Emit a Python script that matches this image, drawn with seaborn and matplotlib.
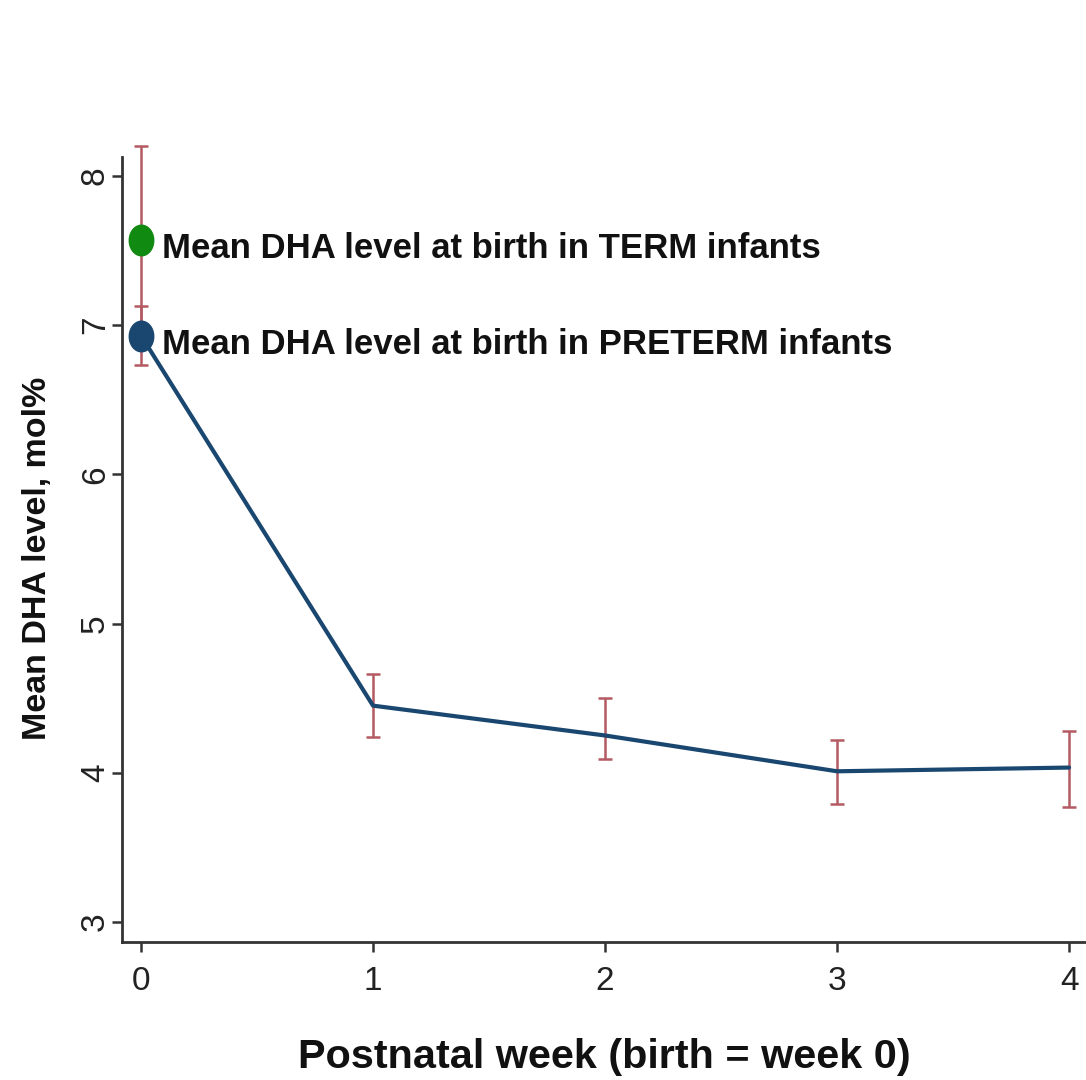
import numpy as np
import pandas as pd
import matplotlib
matplotlib.use("Agg")
import matplotlib.pyplot as plt
from matplotlib.path import Path
import seaborn as sns

# Mean DHA (mol%) in preterm infants by postnatal week, with error bar bounds
weeks = [0, 1, 2, 3, 4]
preterm_mean = [6.93, 4.45, 4.25, 4.01, 4.035]
preterm_low = [6.73, 4.24, 4.09, 3.79, 3.77]
preterm_high = [7.13, 4.66, 4.50, 4.22, 4.28]

# Reference value at birth for term infants
term_week = [0]
term_mean = [7.57]
term_low = [6.94]
term_high = [8.20]

x_ticks = [0, 1, 2, 3, 4]
y_ticks = [3, 4, 5, 6, 7, 8]

sns.set_style("white")
plt.rcParams["font.family"] = ["Liberation Sans", "DejaVu Sans"]

navy = "#1a476f"
maroon = "#b35a63"
green = "#118a11"

fig = plt.figure(figsize=(10.86, 10.8), dpi=100)
ax = fig.add_axes([0.1123, 0.1278, 0.8877, 0.7268])

df = pd.DataFrame({"week": weeks, "dha": preterm_mean})


def draw_errorbars(x, mean, low, high):
    cont = ax.errorbar(x, mean,
                       yerr=[np.subtract(mean, low), np.subtract(high, mean)],
                       fmt="none", ecolor=maroon, elinewidth=1.8, capsize=5,
                       capthick=1.8, zorder=2)
    for part in cont.lines[1] + tuple(cont.lines[2]):
        part.set_clip_on(False)


# error bars first so the line sits on top
draw_errorbars(weeks, preterm_mean, preterm_low, preterm_high)
draw_errorbars(term_week, term_mean, term_low, term_high)

sns.lineplot(data=df, x="week", y="dha", color=navy, linewidth=3.0, ax=ax, zorder=3)

# slightly tall elliptical marker
t = np.linspace(0, 2 * np.pi, 60)
ellipse = Path(np.column_stack([0.8 * np.cos(t), np.sin(t)]), closed=True)

ax.plot([weeks[0]], [preterm_mean[0]], marker=ellipse, markersize=22, color=navy,
        linestyle="none", zorder=4, clip_on=False)
ax.plot(term_week, term_mean, marker=ellipse, markersize=22, color=green,
        linestyle="none", zorder=4, clip_on=False)

ax.annotate("Mean DHA level at birth in TERM infants", xy=(term_week[0], term_mean[0]),
            xytext=(15, -13), textcoords="offset points", ha="left", va="baseline",
            fontsize=25, fontweight="bold", color="#111111")
ax.annotate("Mean DHA level at birth in PRETERM infants", xy=(weeks[0], preterm_mean[0]),
            xytext=(15, -13), textcoords="offset points", ha="left", va="baseline",
            fontsize=25, fontweight="bold", color="#111111")

ax.set_xlim(-0.082, 4.073)
ax.set_ylim(2.866, 8.127)
ax.set_xticks(x_ticks)
ax.set_yticks(y_ticks)
ax.set_xticklabels([str(v) for v in x_ticks], fontsize=24)
ax.set_yticklabels([str(v) for v in y_ticks], fontsize=24, rotation=90, va="center")

for side in ["top", "right"]:
    ax.spines[side].set_visible(False)
for side in ["left", "bottom"]:
    ax.spines[side].set_color("#333333")
    ax.spines[side].set_linewidth(2.0)

ax.tick_params(axis="both", which="major", direction="out", length=7, width=1.8,
               color="#333333", labelcolor="#222222", bottom=True, left=True)
ax.tick_params(axis="x", pad=10)
ax.tick_params(axis="y", pad=1)

ax.set_xlabel("Postnatal week (birth = week 0)", fontsize=29.8, fontweight="bold",
              color="#111111", labelpad=30)
ax.set_ylabel("Mean DHA level, mol%", fontsize=24.5, fontweight="bold",
              color="#111111")
ax.yaxis.set_label_coords(-0.072, 0.489)

fig.savefig("out.png", dpi=100, facecolor="white")
